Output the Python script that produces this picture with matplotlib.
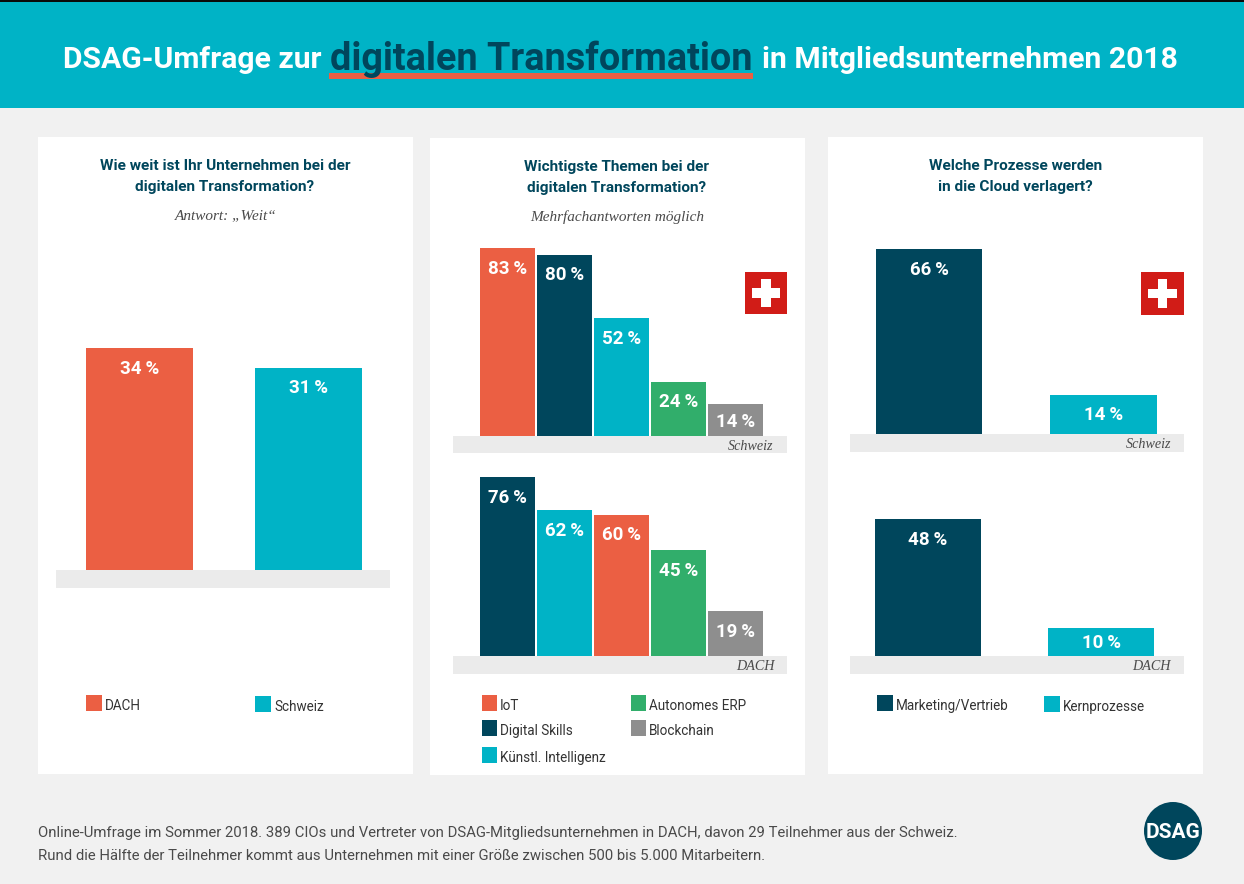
import matplotlib
matplotlib.use("Agg")
import matplotlib.pyplot as plt
from matplotlib.patches import Rectangle, Circle

W, H = 1244, 884
NAVY = "#00465c"
TEAL = "#00b3c6"
ORANGE = "#eb5f43"
GREEN = "#31ae6b"
GRAY = "#8e8e8e"
BAND = "#ebebeb"
BG = "#f1f1f1"
RED = "#d11c17"
TXT = "#4a4a4a"

# data
left_labels = ["DACH", "Schweiz"]
left_values = [34, 31]
left_colors = [ORANGE, TEAL]

mid_ch_labels = ["IoT", "Digital Skills", "Künstl. Intelligenz", "Autonomes ERP", "Blockchain"]
mid_ch_values = [83, 80, 52, 24, 14]
mid_ch_colors = [ORANGE, NAVY, TEAL, GREEN, GRAY]

mid_dach_labels = ["Digital Skills", "Künstl. Intelligenz", "IoT", "Autonomes ERP", "Blockchain"]
mid_dach_values = [76, 62, 60, 45, 19]
mid_dach_colors = [NAVY, TEAL, ORANGE, GREEN, GRAY]

right_labels = ["Marketing/Vertrieb", "Kernprozesse"]
right_ch_values = [66, 14]
right_dach_values = [48, 10]
right_colors = [NAVY, TEAL]

SANS = "Roboto"
SERIF = "Liberation Serif"

fig = plt.figure(figsize=(W / 100, H / 100), dpi=100, facecolor=BG)

# page layer in pixel coordinates
page = fig.add_axes([0, 0, 1, 1], zorder=0)
page.set_xlim(0, W)
page.set_ylim(H, 0)
page.axis("off")


def box(x0, y0, x1, y1, color, z=1):
    page.add_patch(Rectangle((x0, y0), x1 - x0, y1 - y0, fc=color, ec="none", zorder=z))


def swiss_flag(x0, y0, size):
    box(x0, y0, x0 + size, y0 + size, RED, 2)
    c = size / 2
    a, b = size * 0.33, size * 0.115
    box(x0 + c - a, y0 + c - b, x0 + c + a, y0 + c + b, "white", 3)
    box(x0 + c - b, y0 + c - a, x0 + c + b, y0 + c + a, "white", 3)


# header
box(0, 0, W, 108, TEAL)
box(0, 0, W, 2, "#0a0a0a", 2)
box(329, 73, 753, 79, ORANGE, 2)
title_style = dict(fontsize=21.7, fontweight="bold", family=SANS, va="center", zorder=4)
page.text(63, 60, "DSAG-Umfrage zur", color="white", ha="left", **title_style)
page.text(541, 59, "digitalen Transformation", color=NAVY, ha="center",
          fontsize=27.3, fontweight="bold", family=SANS, va="center", zorder=4)
page.text(1178, 60, "in Mitgliedsunternehmen 2018", color="white", ha="right", **title_style)

# panels
box(38, 137, 413, 774, "white")
box(430, 138, 805, 775, "white")
box(828, 137, 1203, 774, "white")

head_style = dict(fontsize=11.1, fontweight="bold", family=SANS, color=NAVY,
                  ha="center", va="center", zorder=4)
page.text(225, 166, "Wie weit ist Ihr Unternehmen bei der", **head_style)
page.text(225, 187, "digitalen Transformation?", **head_style)
page.text(617, 167, "Wichtigste Themen bei der", **head_style)
page.text(617, 188, "digitalen Transformation?", **head_style)
page.text(1015.5, 166, "Welche Prozesse werden", **head_style)
page.text(1015.5, 187, "in die Cloud verlagert?", **head_style)

sub_style = dict(fontsize=11, style="italic", family=SERIF, color=TXT,
                 ha="center", va="center", zorder=4)
page.text(226, 216, "Antwort: „Weit“", **sub_style)
page.text(617, 217, "Mehrfachantworten möglich", **sub_style)

# grey base bands
for x0, y0, x1, y1 in [(56, 570, 390, 588), (453, 436, 787, 453), (453, 656, 787, 674),
                       (850, 434, 1184, 452), (850, 656, 1184, 674)]:
    box(x0, y0, x1, y1, BAND, 2)

band_style = dict(fontsize=10.2, style="italic", family=SERIF, color=TXT,
                  ha="right", va="center", zorder=4)
page.text(773, 446, "Schweiz", **band_style)
page.text(775, 666, "DACH", **band_style)
page.text(1171, 444, "Schweiz", **band_style)
page.text(1171, 666, "DACH", **band_style)

swiss_flag(745, 272, 42)
swiss_flag(1141, 272, 43)


def bar_panel(x0, x1, top, base, first_center, step, width, scale, values, colors, fsize=13.5):
    # one axes per chart, pixel box on the page, y axis in percent
    ax = fig.add_axes([x0 / W, 1 - base / H, (x1 - x0) / W, (base - top) / H], zorder=2)
    ax.patch.set_alpha(0)
    ax.axis("off")
    ax.set_xlim((x0 - first_center) / step, (x1 - first_center) / step)
    ax.set_ylim(0, (base - top) / scale)
    bars = ax.bar(range(len(values)), values, width=width / step, color=colors)
    for b, v in zip(bars, values):
        # label sits near the bar top, centred in short bars
        drop = min(20.5, v * scale / 2 + 1.5)
        ax.annotate(f"{v}\u2009%", (b.get_x() + b.get_width() / 2, v), xytext=(0, -drop * 0.72),
                    textcoords="offset points", ha="center", va="center",
                    color="white", fontsize=fsize, fontweight="bold", family=SANS)
    return ax


bar_panel(56, 390, 300, 570, 139.5, 169, 107.5, 6.52, left_values, left_colors)
bar_panel(453, 787, 240, 436, 507.5, 57, 55, 2.265, mid_ch_values, mid_ch_colors)
bar_panel(453, 787, 470, 656, 507.5, 57, 55, 2.35, mid_dach_values, mid_dach_colors)
bar_panel(850, 1184, 240, 434, 929, 174.5, 106.5, 2.8, right_ch_values, right_colors)
bar_panel(850, 1184, 510, 656, 928, 173, 106, 2.85, right_dach_values, right_colors)


def legend_item(x, y, label, color, size=16):
    box(x, y, x + size, y + 16, color, 2)
    page.text(x + size + 3, y + 11, label, fontsize=9.75, family=SANS, color="#333333",
              ha="left", va="center", zorder=4)


legend_item(86, 695, left_labels[0], left_colors[0])
legend_item(255, 696, left_labels[1], left_colors[1])

legend_item(482, 695, "IoT", ORANGE, 15)
legend_item(482, 720, "Digital Skills", NAVY, 15)
legend_item(482, 747, "Künstl. Intelligenz", TEAL, 15)
legend_item(631, 695, "Autonomes ERP", GREEN, 15)
legend_item(631, 720, "Blockchain", GRAY, 15)

legend_item(877, 695, "Marketing/Vertrieb", right_colors[0])
legend_item(1044, 696, right_labels[1], right_colors[1])

# footer
foot_style = dict(fontsize=10.7, family=SANS, color=TXT, ha="left", va="center", zorder=4)
page.text(38, 833, "Online-Umfrage im Sommer 2018. 389 CIOs und Vertreter von DSAG-Mitgliedsunternehmen "
          "in DACH, davon 29 Teilnehmer aus der Schweiz.", **foot_style)
page.text(38, 856, "Rund die Hälfte der Teilnehmer kommt aus Unternehmen mit einer Größe zwischen "
          "500 bis 5.000 Mitarbeitern.", **foot_style)

page.add_patch(Circle((1173, 831), 29, fc=NAVY, ec="none", zorder=3))
page.text(1173, 832, "DSAG", color="white", fontsize=15, fontweight="bold", family=SANS,
          ha="center", va="center", zorder=4)

fig.savefig("out.png", dpi=100, facecolor=BG)
